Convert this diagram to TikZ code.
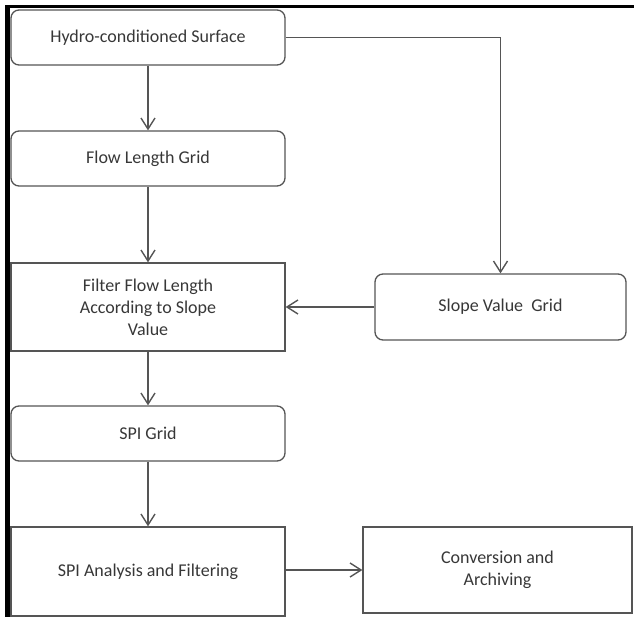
\documentclass[tikz,border=0pt]{standalone}
\usepackage{fontspec}
\setmainfont{Carlito}
\usetikzlibrary{arrows.meta}

\definecolor{boxline}{RGB}{85,85,85}
\definecolor{boxtext}{RGB}{55,55,55}

\tikzset{
  stage/.style={draw=boxline,line width=1.3pt,text=boxtext,align=center,
    inner sep=0pt,font=\fontsize{18}{22}\selectfont},
  roundstage/.style={stage,rounded corners=8pt},
  flow/.style={draw=boxline,line width=1.4pt,
    -{Straight Barb[length=11pt,width=14pt,line width=1.4pt]}}
}

\begin{document}
\begin{tikzpicture}[x=1pt,y=-1pt]
          \useasboundingbox (0,0) rectangle (634,617);
          \fill (5,5) rectangle (634,8.5);
          \fill (5,5) rectangle (10,617);
          \node[roundstage,minimum width=274pt,minimum height=55pt] (hydro) at (148,37.5){Hydro-conditioned Surface};
          \node[roundstage,minimum width=274pt,minimum height=55pt] (flowlen) at (148,158.5){Flow Length Grid};
          \node[stage,minimum width=274pt,minimum height=88pt] (filter) at (148,307){Filter Flow Length\\According to Slope\\Value};
          \node[roundstage,minimum width=251pt,minimum height=66pt] (slope) at (500.5,307){Slope Value\ \ Grid};
          \node[roundstage,minimum width=274pt,minimum height=55pt] (spigrid) at (148,433.5){SPI Grid};
          \node[stage,minimum width=274pt,minimum height=89pt] (analysis) at (148,571.5){SPI Analysis and Filtering};
          \node[stage,minimum width=269pt,minimum height=86pt] (archive) at (497.5,570){Conversion and\\Archiving};
          \draw[flow] (hydro) -- (flowlen);
          \draw[flow] (flowlen) -- (filter);
          \draw[flow] (hydro.east) -| (slope.north);
          \draw[flow] (slope) -- (filter);
          \draw[flow] (filter) -- (spigrid);
          \draw[flow] (spigrid) -- (analysis);
          \draw[flow] (analysis.east |- archive.west) -- (archive.west);
        \end{tikzpicture}
\end{document}
